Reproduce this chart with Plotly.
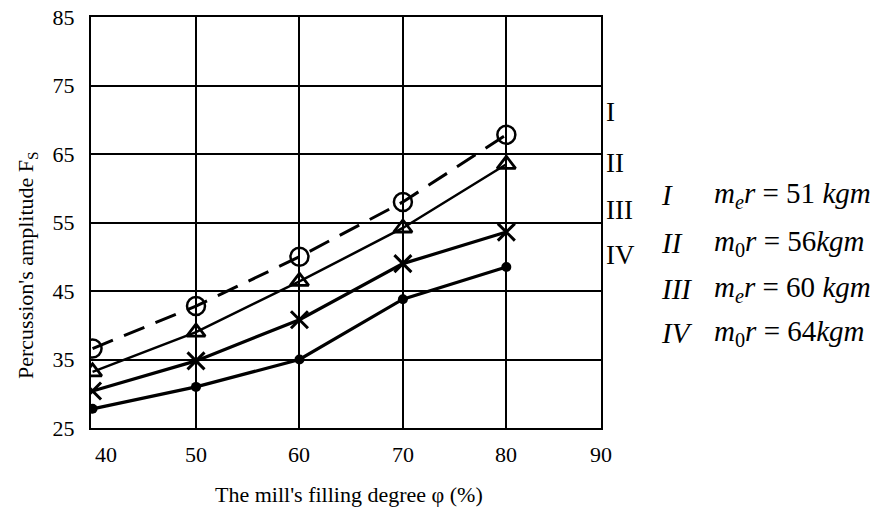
import plotly.graph_objects as go

filling = [40, 50, 60, 70, 80]
series_I = [36.6, 42.8, 50.0, 58.0, 67.8]
series_II = [33.2, 39.0, 46.4, 54.2, 63.5]
series_III = [30.4, 34.8, 40.8, 49.0, 53.6]
series_IV = [27.8, 31.0, 35.0, 43.8, 48.5]
x_ticks = [40, 50, 60, 70, 80, 90]
y_ticks = [25, 35, 45, 55, 65, 75, 85]
curve_names = ["I", "II", "III", "IV"]
curve_formulas = [
    "<i>m</i><sub><i>e</i></sub><i>r</i> = 51 <i>kgm</i>",
    "<i>m</i><sub>0</sub><i>r</i> = 56<i>kgm</i>",
    "<i>m</i><sub><i>e</i></sub><i>r</i> = 60 <i>kgm</i>",
    "<i>m</i><sub>0</sub><i>r</i> = 64<i>kgm</i>",
]

FONT = "Liberation Serif"
fig = go.Figure()

fig.add_trace(go.Scatter(x=filling, y=series_I, mode="lines+markers",
                         line=dict(color="black", width=3, dash="22px,12px"),
                         marker=dict(symbol="circle-open", size=18, color="black",
                                     line=dict(width=2.5, color="black"))))
fig.add_trace(go.Scatter(x=filling, y=series_II, mode="lines+markers",
                         line=dict(color="black", width=2.5),
                         marker=dict(symbol="triangle-up-open", size=16, color="black",
                                     line=dict(width=2.8, color="black"))))
fig.add_trace(go.Scatter(x=filling, y=series_III, mode="lines+markers",
                         line=dict(color="black", width=3.2),
                         marker=dict(symbol="x-thin-open", size=17, color="black",
                                     line=dict(width=3, color="black"))))
fig.add_trace(go.Scatter(x=filling, y=series_IV, mode="lines+markers",
                         line=dict(color="black", width=3.2),
                         marker=dict(symbol="circle", size=10, color="black")))

fig.update_layout(
    width=887, height=508,
    margin=dict(l=91, r=286, t=17, b=80, autoexpand=False),
    paper_bgcolor="white", plot_bgcolor="white",
    showlegend=False,
    font=dict(family=FONT, color="black", size=20),
    xaxis=dict(range=[39.85, 89.15], tickvals=x_ticks[1:-1], showticklabels=False,
               showgrid=True, gridcolor="black", gridwidth=1.5, zeroline=False,
               showline=True, linecolor="black", linewidth=2, mirror=True, ticks="",
               automargin=False),
    yaxis=dict(range=[25, 85], tickvals=y_ticks, showgrid=True, gridcolor="black",
               gridwidth=1.5, zeroline=False, showline=True, linecolor="black",
               linewidth=2, mirror=True, ticks="", ticklabelstandoff=10,
               ticklabeloverflow="allow",
               automargin=False, tickfont=dict(size=22, family=FONT)),
)

# x tick labels
for i, v in enumerate(x_ticks):
    anchor = "left" if i == 0 else "center"
    xv = min(max(v, 39.85), 89.15)
    fig.add_annotation(x=xv, y=0, xref="x", yref="paper", yanchor="top", yshift=-12,
                       xanchor=anchor, text=str(v), showarrow=False,
                       font=dict(size=22, family=FONT))

# axis titles (positions in px relative to plot box 91..601 x 17..428)
fig.add_annotation(x=(349 - 91) / 510, y=-(495 - 428) / 411, xref="paper", yref="paper",
                   text="The mill's filling degree φ (%)", showarrow=False,
                   xanchor="center", yanchor="middle", font=dict(size=22, family=FONT))
fig.add_annotation(x=-(91 - 27) / 510, y=(428 - 265) / 411, xref="paper", yref="paper",
                   text="Percussion's amplitude F<sub>S</sub>", textangle=-90,
                   showarrow=False, xanchor="center", yanchor="middle",
                   font=dict(size=22, family=FONT))

# curve labels right of plot
label_y = [112, 163, 210, 255]
for name, yy in zip(curve_names, label_y):
    fig.add_annotation(x=1 + 3 / 510, y=(428 - yy) / 411, xref="paper", yref="paper",
                       text=name, showarrow=False, xanchor="left", yanchor="middle",
                       font=dict(size=27, family=FONT))

# formulas
formula_y = [195, 243, 289, 333]
for name, formula, yy in zip(curve_names, curve_formulas, formula_y):
    fig.add_annotation(x=1 + (659 - 601) / 510, y=(428 - yy) / 411, xref="paper", yref="paper",
                       text="<i>" + name + "</i>", showarrow=False, xanchor="left",
                       yanchor="middle", font=dict(size=29, family=FONT))
    fig.add_annotation(x=1 + (712 - 601) / 510, y=(428 - yy) / 411, xref="paper", yref="paper",
                       text=formula, showarrow=False, xanchor="left",
                       yanchor="middle", font=dict(size=29, family=FONT))

# remove the default 8px page margin so the figure fills the window exactly
fig.write_html("out.html", config={"displayModeBar": False},
               post_script="document.body.style.margin='0';document.body.style.overflow='hidden';")
